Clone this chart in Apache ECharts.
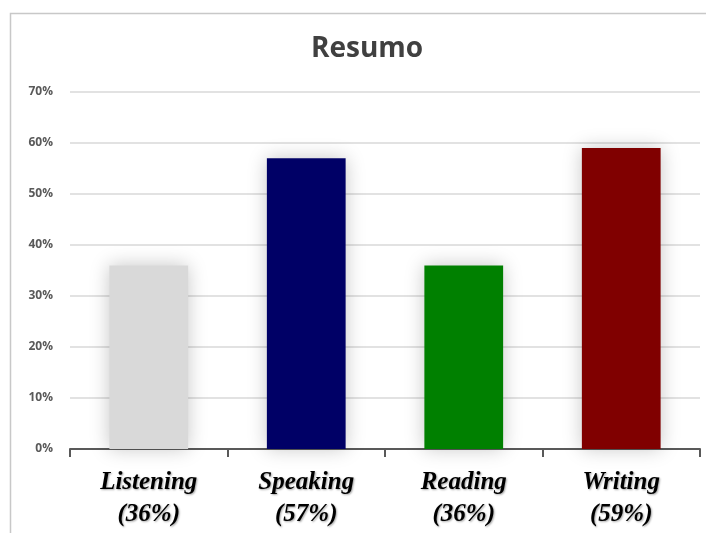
<!DOCTYPE html>
<html>
<head>
<meta charset="utf-8">
<script src="https://cdn.jsdelivr.net/npm/echarts@6/dist/echarts.min.js"></script>
<style>html,body{margin:0;padding:0;background:#fff}#c{width:706px;height:533px}</style>
</head>
<body>
<div id="c"></div>
<script>
const categories = ['Listening', 'Speaking', 'Reading', 'Writing'];
const values = [0.36, 0.57, 0.36, 0.59];
const barColors = ['#d9d9d9', '#000066', '#008000', '#800000'];
const yTicks = [0, 0.1, 0.2, 0.3, 0.4, 0.5, 0.6, 0.7];

const chart = echarts.init(document.getElementById('c'));
chart.setOption({
  animation: false,
  backgroundColor: '#fff',
  graphic: [{
    type: 'rect', left: 8, top: 11, shape: { width: 720, height: 540 },
    style: { fill: 'none', stroke: '#c8c8c8', lineWidth: 1.5 }, silent: true, z: -1
  }],
  title: {
    text: 'Resumo', left: 306, top: 30,
    textStyle: { fontFamily: 'Open Sans', fontWeight: 'bold', fontSize: 28, color: '#404040' }
  },
  grid: { left: 70, right: 6, top: 92, bottom: 84 },
  xAxis: {
    type: 'category', data: categories,
    axisLine: { lineStyle: { color: '#595959', width: 2 } },
    axisTick: { show: true, length: 8, lineStyle: { color: '#595959', width: 2 } },
    axisLabel: {
      margin: 18, lineHeight: 32,
      fontFamily: 'Liberation Serif', fontStyle: 'italic', fontWeight: 'bold', fontSize: 25, color: '#000',
      textShadowColor: 'rgba(0,0,0,0.35)', textShadowBlur: 2, textShadowOffsetX: 1, textShadowOffsetY: 1,
      formatter: (v, i) => v + '\n(' + Math.round(values[i] * 100) + '%)'
    }
  },
  yAxis: {
    type: 'value', min: 0, max: yTicks[yTicks.length - 1], interval: 0.1,
    axisLine: { show: false }, axisTick: { show: false },
    splitLine: { lineStyle: { color: '#d9d9d9', width: 1.5 } },
    axisLabel: {
      margin: 17, fontFamily: 'Open Sans', fontWeight: 'bold', fontSize: 12, color: '#595959',
      formatter: v => Math.round(v * 100) + '%'
    }
  },
  series: [{
    type: 'bar', barWidth: '50%',
    data: values.map((v, i) => ({
      value: v,
      itemStyle: { color: barColors[i], shadowBlur: 18, shadowColor: 'rgba(0,0,0,0.22)' }
    }))
  }]
});
</script>
</body>
</html>
